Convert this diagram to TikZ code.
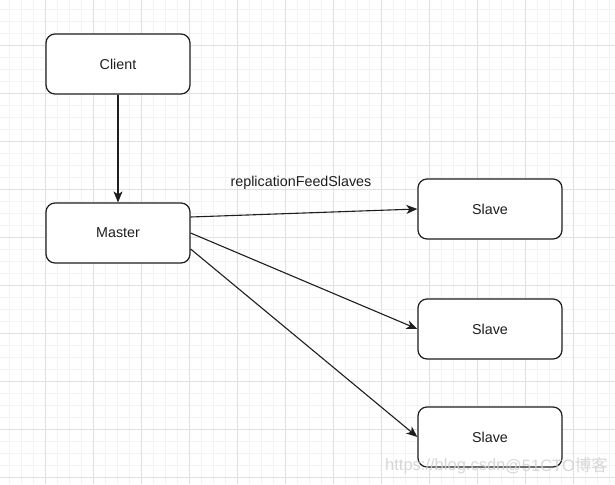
\documentclass[tikz,border=0pt]{standalone}
\usepackage{fontspec}
\setmainfont{Liberation Sans}
\newfontfamily\cjkfont{Noto Sans CJK SC}
\usetikzlibrary{arrows.meta}
\definecolor{gridminor}{HTML}{F3F3F3}
\definecolor{gridmajor}{HTML}{E0E0E0}
\definecolor{inkc}{HTML}{1E1E1E}
\definecolor{wmark}{HTML}{D2D2D2}
\begin{document}
\begin{tikzpicture}[x=1pt,y=-1pt,
  box/.style={draw=inkc, line width=1.2pt, rounded corners=9pt, fill=white,
    minimum width=144pt, minimum height=60pt, inner sep=0pt,
    font=\fontsize{14.3}{17}\selectfont, text=inkc},
  conn/.style={draw=inkc, line width=1.1pt, -{Stealth[length=11pt,width=9pt,inset=3pt]}},
  lbl/.style={font=\fontsize{14.3}{17}\selectfont, text=inkc, inner sep=0pt},
  wm/.style={font=\fontsize{16.5}{20}\selectfont, text=wmark, inner sep=0pt, anchor=west, text opacity=0.9}]
\useasboundingbox (0,0) rectangle (615,484);
\fill[white] (0,0) rectangle (615,484);
% grid
\foreach \i in {0,...,51} {
  \draw[gridminor, line width=0.8pt] ({9.3+12*\i},0) -- ({9.3+12*\i},484);
}
\foreach \i in {0,...,40} {
  \draw[gridminor, line width=0.8pt] (0,{9+12*\i}) -- (615,{9+12*\i});
}
\foreach \i in {0,...,12} {
  \draw[gridmajor, line width=0.8pt] ({45.3+48*\i},0) -- ({45.3+48*\i},484);
}
\foreach \i in {0,...,9} {
  \draw[gridmajor, line width=0.8pt] (0,{45+48*\i}) -- (615,{45+48*\i});
}
% nodes
\node[box] (client) at (118,64) {Client};
\node[box] (master) at (118,233) {Master};
\node[box] (s1) at (490,209) {Slave};
\node[box] (s2) at (490,329) {Slave};
\node[box] (s3) at (490,437) {Slave};
% connectors
\draw[conn] (client.south) -- (master.north);
\draw[conn] ([yshift=16pt]master.east) -- (s1.west);
\draw[conn] (master.east) -- (s2.west);
\draw[conn] ([yshift=-16pt]master.east) -- (s3.west);
\node[lbl] (lab) at (301,183) {replicationFeedSlaves};
% watermark (on top)
\node[wm] (wm1) at (385,466) {https://blog.csdn};
\node[wm] (wm2) at (505,466) {@51CTO{\cjkfont 博客}};
\end{tikzpicture}
\end{document}
